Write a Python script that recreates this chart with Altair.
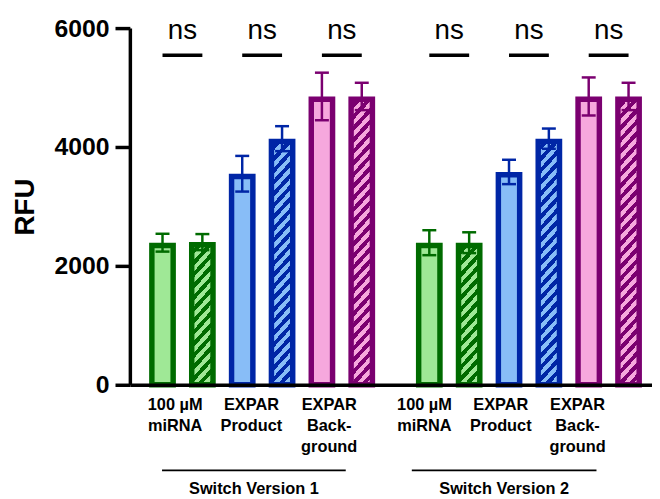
import altair as alt
import pandas as pd

# ---------------- data ----------------
versions = ["Switch Version 1", "Switch Version 2"]
categories = ["100 µM\nmiRNA", "EXPAR\nProduct", "EXPAR\nBack-\nground"]
patterns = ["solid", "hatched"]

# order: version -> category -> pattern (solid, hatched)
means = [2390, 2400, 3550, 4140, 4850, 4850,
         2390, 2390, 3580, 4140, 4850, 4850]
sds = [150, 135, 300, 210, 400, 230,
       210, 175, 205, 170, 320, 230]
sig_text = ["ns", "ns", "ns", "ns", "ns", "ns"]

y_ticks = [0, 2000, 4000, 6000]

# ---------------- layout / style ----------------
LIGHT = ["#9fe896", "#88bdf7", "#f6a8dd"]
DARK = ["#006b00", "#0026a6", "#7b0070"]
FONT = "Liberation Sans"

PLOT_W, PLOT_H = 527, 360
Y_MAX = 6000
X_MAX = 12.854
FIRST_BAR = 0.695
GROUP_STEP = 6.695
BAR_W = 21.5
BORDER = 5.5
CAP_HALF = 0.175
LABEL_POS = [[1.012, 2.927, 4.878], [7.268, 9.183, 11.11]]
GROUP_LINE = [(0.683, 5.293), (6.951, 11.585)]
LABEL_Y = -430
GROUP_LINE_Y = -1440
GROUP_TITLE_Y = -1845
SIG_Y = 5542
NS_Y = 5822
PX_PER_UNIT = PLOT_H / Y_MAX
HATCH_PERIOD = 11.7
HATCH_SLOPE = 1.1
DARK_FRAC = 0.5

# ---------------- tables ----------------
rows = []
i = 0
for v, ver in enumerate(versions):
    for c, cat in enumerate(categories):
        for p, pat in enumerate(patterns):
            pos = FIRST_BAR + c * 2 + p + v * GROUP_STEP
            m, s = means[i], sds[i]
            rows.append(dict(idx=i, version=ver, category=cat, cat_i=c, pattern=pat,
                             mean=m, lo=m - s, hi=m + s, base=0, pos=pos,
                             cap_l=pos - CAP_HALF, cap_r=pos + CAP_HALF))
            i += 1
bars = pd.DataFrame(rows)

sig_rows = []
for v in range(len(versions)):
    for c in range(len(categories)):
        a = FIRST_BAR + c * 2 + v * GROUP_STEP
        sig_rows.append(dict(x1=a, x2=a + 1, xm=a + 0.5, y=SIG_Y, ty=NS_Y,
                             text=sig_text[v * 3 + c]))
sig = pd.DataFrame(sig_rows)

lab_rows = []
for v in range(len(versions)):
    for c, cat in enumerate(categories):
        lab_rows.append(dict(x=LABEL_POS[v][c], y=LABEL_Y, text=cat))
labels = pd.DataFrame(lab_rows)

grp = pd.DataFrame([dict(x1=GROUP_LINE[v][0], x2=GROUP_LINE[v][1],
                         xm=(GROUP_LINE[v][0] + GROUP_LINE[v][1]) / 2,
                         y=GROUP_LINE_Y, ty=GROUP_TITLE_Y, text=versions[v])
                    for v in range(len(versions))])

# ---------------- scales ----------------
XS = alt.Scale(domain=[0, X_MAX], nice=False, zero=False)
YS = alt.Scale(domain=[0, Y_MAX], nice=False, zero=False)
FILL_S = alt.Scale(domain=categories, range=LIGHT)
STROKE_S = alt.Scale(domain=categories, range=DARK)

x_axis = alt.Axis(domain=True, domainWidth=3.5, domainColor="black", ticks=False,
                  labels=False, grid=False, title=None, zindex=1)
y_axis = alt.Axis(values=y_ticks, format="d", domainWidth=3.5, domainColor="black",
                  tickSize=15, tickWidth=3.5, tickColor="black", grid=False,
                  labelFont=FONT, labelFontSize=25, labelFontWeight="bold",
                  labelColor="black", labelPadding=6, zindex=1,
                  title="RFU", titleFont=FONT, titleFontSize=28, titleFontWeight="bold",
                  titleColor="black", titleAngle=270, titleX=-105, titleY=180,
                  titleAlign="center", titleBaseline="middle")

base = alt.Chart(bars)

solid = base.transform_filter(alt.datum.pattern == "solid").mark_bar(
    size=BAR_W, strokeWidth=BORDER, orient="vertical", yOffset=BORDER / 2
).encode(
    x=alt.X("pos:Q", scale=XS, axis=x_axis),
    y=alt.Y("mean:Q", scale=YS, axis=y_axis, stack=None),
    y2="base:Q",
    fill=alt.Fill("category:N", scale=FILL_S, legend=None),
    stroke=alt.Stroke("category:N", scale=STROKE_S, legend=None),
)


def hatch_gradient(value, light, dark):
    w = BAR_W
    h = value * PX_PER_UNIT - BORDER / 2
    s = HATCH_SLOPE
    span = s * w + h
    k = span / (s * s * w * w + h * h)
    n = int(span // HATCH_PERIOD) + 1
    stops = []
    for j in range(n):
        a = min(j * HATCH_PERIOD / span, 1)
        b = min((j * HATCH_PERIOD + HATCH_PERIOD * (1 - DARK_FRAC)) / span, 1)
        c = min((j + 1) * HATCH_PERIOD / span, 1)
        stops += [(light, a), (light, b), (dark, b), (dark, c)]
    return alt.LinearGradient(
        gradient="linear",
        stops=[alt.GradientStop(color=col, offset=off) for col, off in stops],
        x1=0, y1=0, x2=k * s * w, y2=k * h)


hatched_layers = []
for r in rows:
    if r["pattern"] != "hatched":
        continue
    c = r["cat_i"]
    hatched_layers.append(
        base.transform_filter(alt.datum.idx == r["idx"]).mark_bar(
            size=BAR_W, strokeWidth=BORDER, orient="vertical", yOffset=BORDER / 2,
            fill=hatch_gradient(r["mean"], LIGHT[c], DARK[c]), stroke=DARK[c]
        ).encode(
            x=alt.X("pos:Q", scale=XS),
            y=alt.Y("mean:Q", scale=YS, stack=None),
            y2="base:Q",
        )
    )

stem = base.mark_rule(strokeWidth=2.5).encode(
    x=alt.X("pos:Q", scale=XS),
    y=alt.Y("lo:Q", scale=YS),
    y2="hi:Q",
    stroke=alt.Stroke("category:N", scale=STROKE_S, legend=None),
)
cap_hi = base.mark_rule(strokeWidth=2.5).encode(
    x=alt.X("cap_l:Q", scale=XS), x2="cap_r:Q",
    y=alt.Y("hi:Q", scale=YS),
    stroke=alt.Stroke("category:N", scale=STROKE_S, legend=None),
)
cap_lo = base.mark_rule(strokeWidth=2.5).encode(
    x=alt.X("cap_l:Q", scale=XS), x2="cap_r:Q",
    y=alt.Y("lo:Q", scale=YS),
    stroke=alt.Stroke("category:N", scale=STROKE_S, legend=None),
)

sig_line = alt.Chart(sig).mark_rule(strokeWidth=3.5, color="black").encode(
    x=alt.X("x1:Q", scale=XS), x2="x2:Q", y=alt.Y("y:Q", scale=YS))
sig_txt = alt.Chart(sig).mark_text(font=FONT, fontSize=28, color="black",
                                   align="center", baseline="alphabetic").encode(
    x=alt.X("xm:Q", scale=XS), y=alt.Y("ty:Q", scale=YS), text="text:N")

cat_txt = alt.Chart(labels).mark_text(font=FONT, fontSize=16.5, fontWeight="bold",
                                      color="black", align="center",
                                      baseline="alphabetic", lineBreak="\n",
                                      lineHeight=21).encode(
    x=alt.X("x:Q", scale=XS), y=alt.Y("y:Q", scale=YS), text="text:N")

grp_line = alt.Chart(grp).mark_rule(strokeWidth=1.7, color="black").encode(
    x=alt.X("x1:Q", scale=XS), x2="x2:Q", y=alt.Y("y:Q", scale=YS))
grp_txt = alt.Chart(grp).mark_text(font=FONT, fontSize=16.5, fontWeight="bold",
                                   color="black", align="center",
                                   baseline="alphabetic").encode(
    x=alt.X("xm:Q", scale=XS), y=alt.Y("ty:Q", scale=YS), text="text:N")

chart = alt.layer(
    solid, *hatched_layers, stem, cap_hi, cap_lo,
    sig_line, sig_txt, cat_txt, grp_line, grp_txt
).properties(
    width=PLOT_W, height=PLOT_H,
    autosize=alt.AutoSizeParams(type="none"),
    padding={"left": 123, "top": 18, "right": 0, "bottom": 112},
    background="white",
).configure_view(strokeWidth=0)

chart.save("out.html", embed_options={"renderer": "svg", "actions": False})
